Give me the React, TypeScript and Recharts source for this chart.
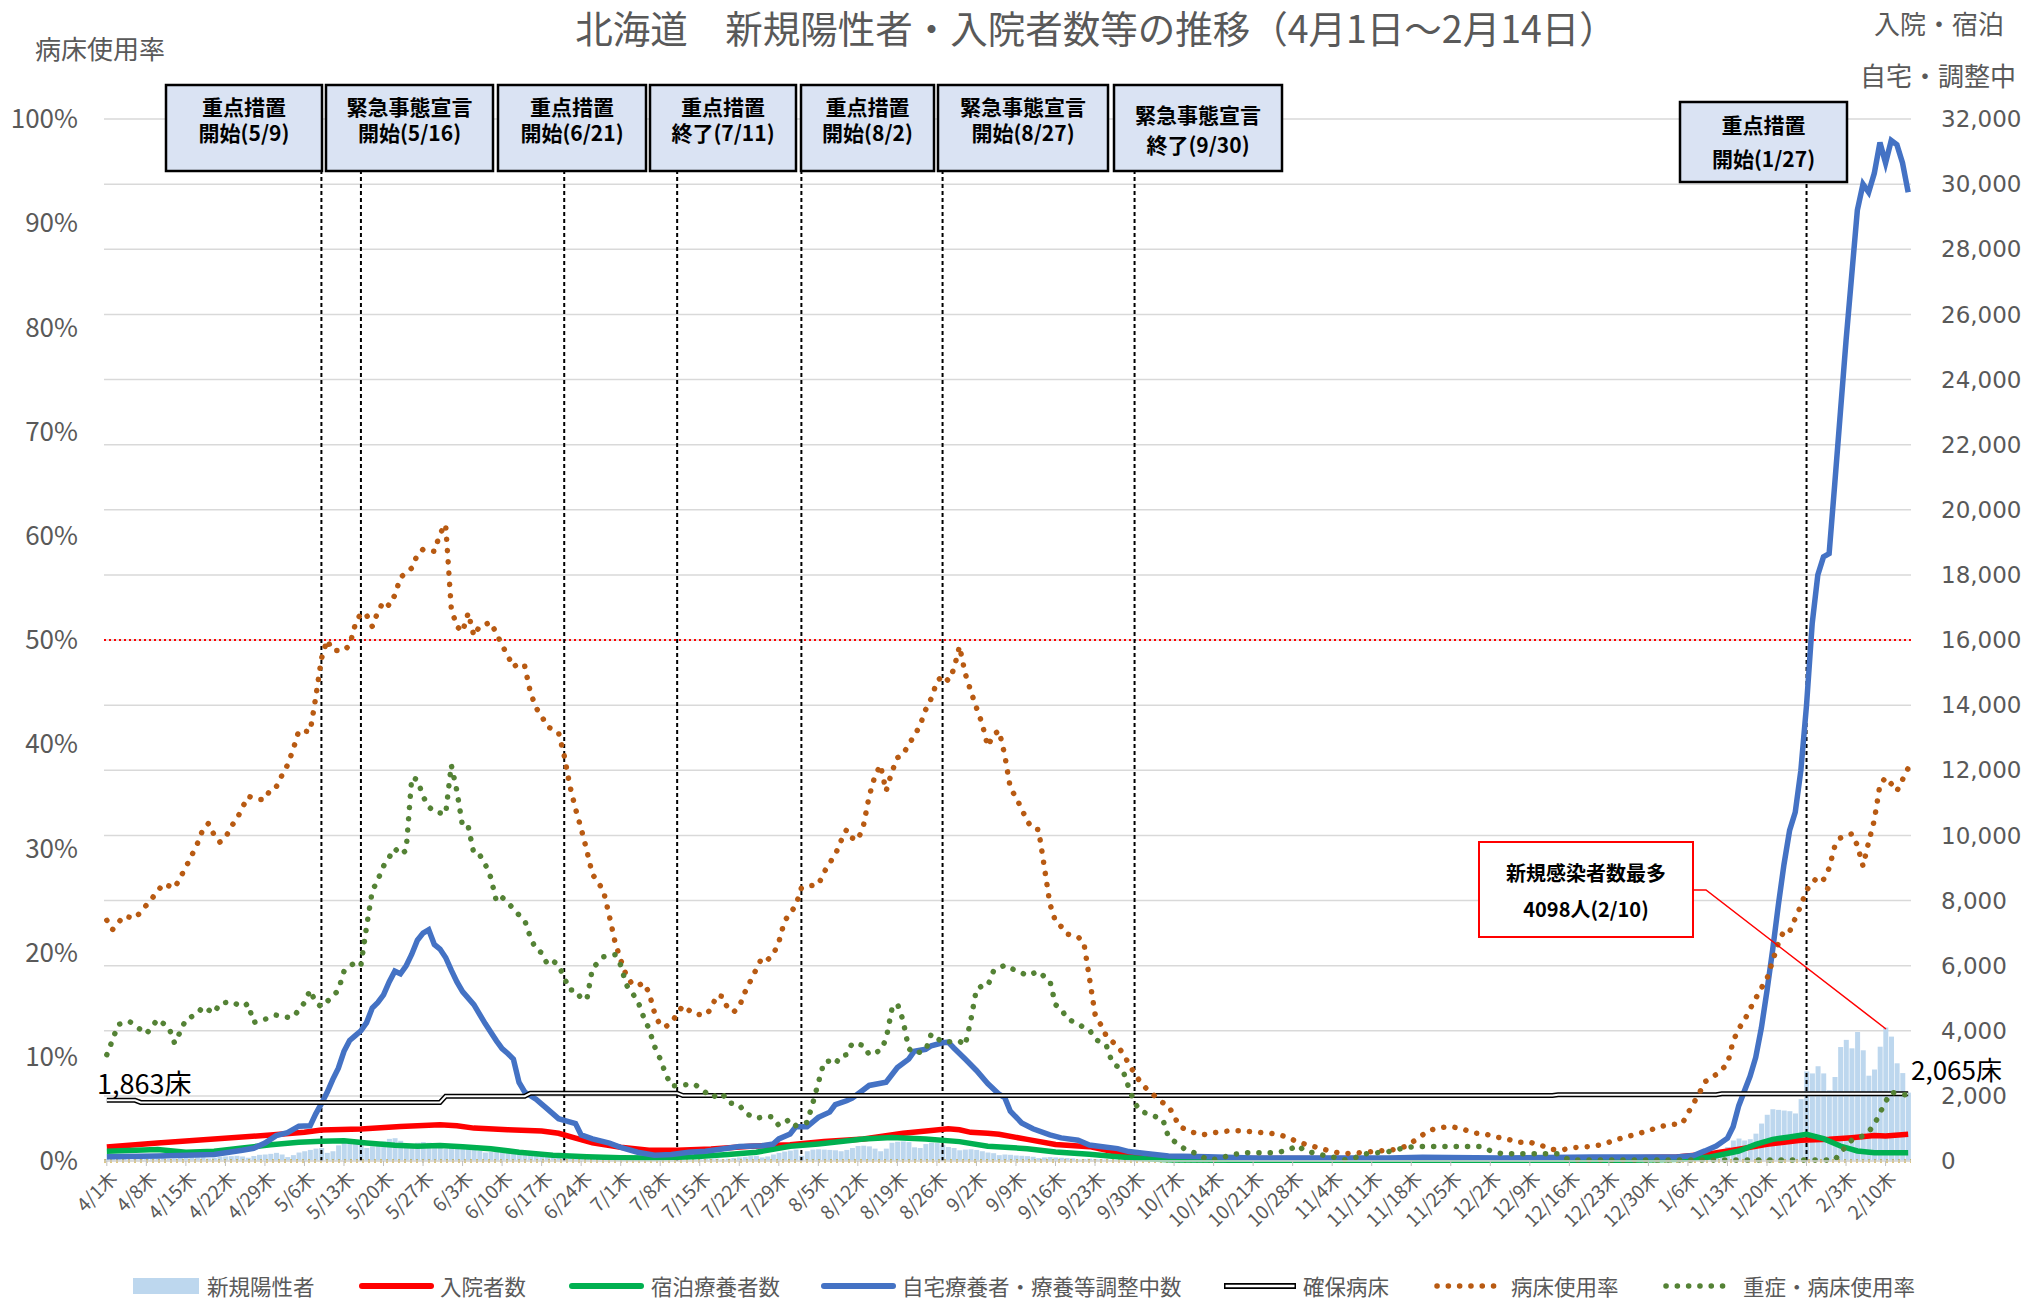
import React from 'react';
import { ComposedChart, Bar, Line, XAxis, YAxis, CartesianGrid, ReferenceLine } from 'recharts';

const W = 2029;
const H = 1299;
const FONT = "'Noto Sans CJK JP', 'Noto Sans', sans-serif";
const GRAY = '#595959';

// 4/1 = day 0 ... 2/14 = day 319
const tickLabels = [
  '4/1木', '4/8木', '4/15木', '4/22木', '4/29木', '5/6木', '5/13木', '5/20木', '5/27木', '6/3木',
  '6/10木', '6/17木', '6/24木', '7/1木', '7/8木', '7/15木', '7/22木', '7/29木', '8/5木', '8/12木',
  '8/19木', '8/26木', '9/2木', '9/9木', '9/16木', '9/23木', '9/30木', '10/7木', '10/14木', '10/21木',
  '10/28木', '11/4木', '11/11木', '11/18木', '11/25木', '12/2木', '12/9木', '12/16木', '12/23木', '12/30木',
  '1/6木', '1/13木', '1/20木', '1/27木', '2/3木', '2/10木',
];

// 新規陽性者 (daily)
const newCases = [
  60, 70, 75, 65, 40, 55, 80,
  85, 95, 100, 110, 60, 70, 100,
  110, 120, 140, 120, 80, 100, 130,
  140, 150, 160, 140, 100, 150, 190,
  200, 220, 250, 200, 120, 180, 260,
  300, 340, 380, 400, 250, 300, 480,
  560, 650, 600, 520, 400, 450, 560,
  600, 680, 700, 620, 480, 500, 560,
  580, 560, 520, 500, 380, 420, 450,
  400, 380, 360, 320, 260, 280, 300,
  300, 280, 260, 240, 180, 200, 220,
  200, 180, 170, 150, 100, 110, 130,
  120, 110, 100, 90, 60, 70, 80,
  80, 70, 60, 50, 30, 40, 50,
  50, 45, 40, 35, 25, 35, 45,
  55, 60, 70, 75, 50, 70, 90,
  110, 130, 150, 160, 110, 140, 200,
  250, 290, 320, 350, 160, 300, 350,
  360, 350, 340, 330, 300, 340, 400,
  460, 470, 450, 380, 300, 380, 560,
  590, 600, 580, 420, 400, 520, 560,
  550, 500, 430, 400, 330, 350, 360,
  340, 300, 260, 240, 180, 200, 190,
  170, 160, 150, 130, 90, 110, 120,
  110, 100, 90, 80, 50, 60, 70,
  60, 55, 50, 40, 25, 35, 40,
  35, 30, 28, 25, 15, 20, 25,
  20, 18, 17, 15, 10, 12, 15,
  15, 12, 10, 10, 6, 8, 10,
  9, 8, 7, 6, 4, 5, 7,
  8, 7, 6, 5, 3, 5, 6,
  6, 5, 5, 4, 3, 4, 6,
  8, 10, 12, 14, 10, 14, 18,
  22, 25, 28, 30, 20, 26, 30,
  32, 30, 28, 25, 18, 22, 24,
  22, 20, 18, 16, 10, 14, 15,
  14, 12, 11, 10, 6, 8, 9,
  8, 7, 6, 6, 4, 5, 6,
  6, 7, 8, 10, 8, 8, 10,
  12, 15, 20, 25, 30, 40, 60,
  50, 70, 110, 150, 200, 240, 350,
  430, 630, 690, 630, 670, 840, 1150,
  1420, 1590, 1570, 1550, 1530, 1460, 1900,
  2750, 2690, 2910, 2690, 2170, 2580, 3500,
  3720, 3460, 3960, 3400, 2620, 2810, 3510,
  4098, 3820, 3000, 2700, 2100,
];

// [day, value] read at the line's vertices
const hospitalized: [number, number][] = [
  [0, 430], [9, 550], [19, 675], [29, 800], [35, 880], [38, 950], [45, 980], [52, 1060], [59, 1110],
  [62, 1080], [65, 1010], [71, 960], [77, 920], [80, 850], [83, 700], [86, 560], [91, 425], [96, 330],
  [101, 330], [107, 370], [114, 450], [121, 500], [127, 600], [134, 675], [141, 850], [146, 940],
  [149, 990], [151, 960], [153, 880], [156, 850], [158, 820], [163, 665], [168, 510], [174, 440],
  [179, 260], [184, 150], [189, 100], [200, 80], [230, 70], [260, 70], [278, 120], [284, 225],
  [289, 360], [294, 510], [300, 640], [305, 665], [309, 716], [313, 780], [315, 770], [319, 820],
];

const hotel: [number, number][] = [
  [0, 300], [9, 350], [14, 270], [19, 300], [24, 400], [29, 500], [34, 575], [38, 605], [42, 625],
  [46, 555], [51, 485], [55, 455], [59, 475], [63, 435], [68, 375], [73, 270], [79, 180], [85, 130],
  [91, 100], [97, 90], [104, 130], [110, 200], [115, 270], [121, 450], [126, 525], [134, 675],
  [139, 725], [145, 675], [151, 595], [156, 455], [163, 378], [168, 276], [174, 205], [179, 133],
  [184, 72], [189, 31], [200, 20], [270, 20], [279, 50], [284, 123], [289, 307], [292, 511],
  [295, 665], [298, 737], [301, 818], [304, 685], [307, 460], [310, 307], [313, 256], [316, 250],
  [319, 256],
];

const home: [number, number][] = [
  [0, 130], [9, 150], [19, 200], [24, 330], [26, 390], [28, 550], [30, 780], [32, 870], [34, 1070],
  [36, 1080], [37, 1450], [38, 1760], [39, 2100], [40, 2500], [41, 2850], [42, 3370], [43, 3700],
  [44, 3850], [45, 4000], [46, 4250], [47, 4700], [48, 4870], [49, 5100], [50, 5500], [51, 5830],
  [52, 5750], [53, 5990], [54, 6350], [55, 6780], [56, 7000], [57, 7100], [58, 6650], [59, 6510],
  [60, 6250], [61, 5860], [62, 5500], [63, 5200], [65, 4800], [67, 4220], [69, 3690], [70, 3450],
  [71, 3300], [72, 3130], [73, 2410], [74, 2120], [76, 1900], [78, 1600], [80, 1300], [81, 1250],
  [83, 1150], [84, 800], [86, 680], [89, 550], [91, 420], [94, 270], [97, 180], [100, 200],
  [103, 270], [106, 300], [109, 370], [112, 445], [116, 470], [118, 520], [119, 680], [121, 830],
  [122, 1050], [124, 1050], [126, 1340], [128, 1500], [129, 1730], [131, 1850], [132, 1930],
  [134, 2190], [135, 2320], [138, 2420], [140, 2870], [142, 3130], [143, 3370], [145, 3430],
  [146, 3540], [148, 3630], [149, 3650], [150, 3470], [152, 3130], [154, 2780], [156, 2380],
  [158, 2050], [159, 1950], [160, 1530], [162, 1170], [164, 990], [167, 800], [169, 710], [172, 640],
  [174, 490], [176, 445], [179, 380], [181, 290], [184, 230], [188, 155], [195, 130], [203, 95],
  [227, 95], [233, 115], [247, 95], [263, 120], [278, 120], [281, 170], [283, 310], [285, 460],
  [287, 700], [288, 1050], [289, 1700], [291, 2600], [292, 3180], [293, 4080], [294, 5230],
  [295, 6480], [296, 7850], [297, 9100], [298, 10150], [299, 10710], [300, 12000], [301, 14000],
  [302, 16500], [303, 18000], [304, 18550], [305, 18650], [306, 20800], [307, 23000], [308, 25200],
  [309, 27200], [310, 29200], [311, 30000], [312, 29750], [313, 30330], [314, 31280], [315, 30650],
  [316, 31340], [317, 31210], [318, 30650], [319, 29750],
];

const securedBeds: [number, number][] = [
  [0, 1863], [5, 1863], [6, 1800], [59, 1800], [60, 1990], [74, 1990], [75, 2080], [101, 2080],
  [102, 2010], [256, 2010], [257, 2035], [285, 2035], [286, 2065], [319, 2065],
];

// percent
const bedRate: [number, number][] = [
  [0, 23.1], [1, 22.2], [3, 23.5], [5, 23.3], [6, 23.9], [8, 25.2], [10, 26.6], [12, 26.2], [14, 28.2],
  [16, 30.4], [17, 31.8], [18, 32.4], [19, 31.3], [20, 30.6], [21, 31.0], [22, 32.1], [23, 32.8],
  [25, 35.0], [27, 34.7], [28, 34.7], [29, 35.7], [30, 35.9], [31, 37.0], [32, 38.0], [33, 39.5],
  [34, 41.3], [36, 41.2], [37, 44.5], [38, 48.2], [39, 50.0], [40, 49.0], [42, 49.0], [43, 49.5],
  [44, 51.5], [45, 52.6], [46, 52.4], [47, 51.3], [48, 52.7], [49, 53.7], [50, 53.3], [51, 54.3],
  [52, 56.0], [54, 56.9], [55, 58.2], [56, 58.7], [58, 58.5], [59, 60.2], [60, 61.1], [61, 53.0],
  [62, 51.3], [63, 50.8], [64, 52.6], [65, 50.4], [66, 51.3], [68, 51.7], [69, 50.6], [70, 49.5],
  [71, 48.5], [72, 47.4], [73, 47.8], [74, 47.5], [75, 45.0], [76, 43.5], [77, 42.7], [78, 41.7],
  [80, 41.1], [81, 38.9], [82, 36.0], [83, 33.8], [84, 31.9], [85, 29.8], [86, 27.5], [87, 26.8],
  [88, 25.8], [89, 23.5], [90, 21.0], [91, 19.3], [92, 17.8], [93, 17.0], [94, 16.8], [95, 17.1],
  [96, 16.2], [97, 14.2], [98, 13.0], [99, 12.9], [100, 13.3], [101, 14.1], [102, 14.9], [103, 14.5],
  [104, 14.1], [106, 14.0], [107, 14.6], [108, 15.9], [109, 15.8], [110, 14.6], [111, 14.3],
  [112, 14.8], [113, 16.2], [114, 17.3], [115, 18.4], [116, 19.5], [117, 19.3], [118, 19.8],
  [119, 21.0], [120, 23.0], [121, 23.8], [122, 24.5], [123, 26.2], [124, 26.4], [126, 26.5],
  [127, 27.7], [128, 28.6], [129, 29.4], [130, 30.7], [131, 31.8], [132, 31.0], [133, 30.8],
  [134, 32.2], [135, 35.0], [136, 36.9], [137, 38.0], [138, 35.5], [139, 37.3], [140, 38.7],
  [141, 39.0], [142, 40.0], [143, 40.8], [144, 41.8], [145, 43.3], [146, 44.4], [147, 46.0],
  [148, 46.6], [149, 46.1], [150, 47.2], [151, 49.4], [152, 46.8], [153, 45.1], [154, 43.5],
  [155, 42.0], [156, 39.8], [157, 40.9], [158, 41.3], [159, 39.0], [160, 35.8], [161, 34.9],
  [162, 33.8], [163, 32.6], [164, 31.9], [165, 31.8], [166, 28.3], [167, 24.7], [168, 23.0],
  [169, 22.5], [170, 21.8], [172, 21.5], [173, 21.0], [174, 17.6], [175, 14.1], [176, 13.1],
  [177, 12.0], [179, 11.0], [180, 10.3], [181, 9.3], [182, 8.4], [183, 7.6], [184, 7.0], [185, 6.5],
  [187, 5.6], [188, 5.3], [190, 3.3], [192, 2.8], [194, 2.5], [197, 2.8], [199, 2.9], [201, 2.9],
  [203, 2.8], [205, 2.7], [207, 2.6], [209, 2.3], [211, 1.8], [213, 1.5], [215, 1.2], [217, 0.9],
  [219, 0.7], [222, 0.8], [224, 0.9], [226, 1.0], [228, 1.1], [230, 1.4], [232, 2.1], [234, 2.9],
  [236, 3.2], [238, 3.3], [240, 3.1], [242, 2.7], [244, 2.6], [246, 2.3], [248, 2.1], [250, 1.8],
  [252, 1.8], [254, 1.5], [256, 1.1], [258, 1.1], [260, 1.3], [263, 1.4], [265, 1.6], [267, 2.0],
  [269, 2.3], [271, 2.6], [273, 2.9], [275, 3.3], [277, 3.5], [279, 3.6], [280, 4.6], [282, 6.5],
  [283, 7.6], [285, 8.3], [287, 9.3], [288, 11.5], [289, 12.7], [290, 13.5], [291, 14.6],
  [292, 15.6], [293, 16.6], [294, 17.5], [295, 19.2], [296, 20.9], [297, 22.1], [298, 22.0],
  [299, 23.3], [300, 24.5], [301, 26.0], [303, 27.3], [304, 27.0], [305, 28.1], [306, 30.2],
  [307, 31.0], [309, 31.4], [310, 30.3], [311, 28.3], [312, 30.6], [313, 32.7], [314, 36.1],
  [315, 36.8], [316, 36.2], [317, 35.5], [318, 36.6], [319, 37.7],
];

const severeRate: [number, number][] = [
  [0, 10.2], [1, 11.6], [2, 13.1], [4, 13.4], [5, 13.0], [7, 12.2], [9, 13.6], [11, 12.8], [12, 11.3],
  [13, 12.4], [14, 13.6], [16, 14.1], [17, 14.8], [19, 14.2], [20, 15.1], [22, 15.3], [24, 14.8],
  [25, 15.1], [26, 13.3], [28, 13.6], [30, 14.0], [32, 13.8], [33, 13.8], [35, 15.2], [36, 16.4],
  [37, 15.2], [38, 14.8], [40, 15.8], [41, 16.4], [42, 18.2], [44, 19.1], [45, 18.8], [46, 22.5],
  [47, 25.9], [48, 27.0], [49, 28.3], [51, 30.0], [52, 29.4], [53, 29.8], [54, 36.8], [55, 36.6],
  [56, 35.0], [57, 34.0], [58, 33.5], [60, 33.3], [61, 38.0], [62, 35.5], [63, 32.1], [64, 32.1],
  [65, 29.5], [66, 29.4], [67, 28.5], [68, 27.2], [69, 24.9], [70, 25.3], [71, 24.8], [73, 23.6],
  [74, 23.1], [75, 21.5], [76, 20.3], [77, 20.0], [78, 18.9], [79, 19.2], [80, 18.8], [81, 17.6],
  [82, 16.4], [83, 16.4], [84, 15.6], [85, 15.5], [86, 18.5], [88, 19.6], [90, 19.8], [91, 18.8],
  [92, 16.9], [94, 15.4], [95, 13.9], [96, 12.7], [97, 11.0], [98, 9.8], [99, 8.3], [100, 7.2],
  [102, 7.3], [104, 7.4], [106, 6.6], [107, 6.1], [109, 6.5], [110, 5.6], [112, 5.4], [113, 4.6],
  [115, 4.1], [117, 4.3], [118, 4.2], [119, 3.4], [121, 4.0], [122, 3.4], [124, 3.7], [125, 5.5],
  [126, 7.5], [127, 9.5], [128, 9.6], [129, 9.3], [130, 10.1], [131, 10.2], [132, 11.3], [134, 11.1],
  [135, 10.2], [137, 10.6], [138, 11.7], [139, 14.5], [140, 15.1], [141, 13.5], [142, 10.8],
  [143, 10.3], [145, 10.6], [146, 12.2], [147, 11.8], [148, 11.4], [151, 11.5], [152, 11.1],
  [153, 13.5], [154, 16.5], [155, 16.8], [156, 16.8], [157, 18.2], [159, 18.8], [160, 18.5],
  [161, 18.3], [163, 17.8], [165, 18.2], [166, 17.7], [167, 17.3], [168, 15.0], [169, 14.6],
  [170, 13.7], [172, 13.1], [174, 12.6], [175, 11.7], [177, 11.1], [178, 9.5], [180, 8.6], [181, 7.0],
  [182, 5.6], [183, 4.8], [185, 4.4], [187, 4.0], [188, 2.3], [190, 1.5], [191, 1.1], [193, 0.7],
  [195, 0.1], [197, 0.2], [199, 0.6], [202, 0.8], [207, 0.8], [209, 1.0], [211, 1.5], [212, 1.0],
  [215, 0.6], [217, 0.4], [219, 0.1], [221, 0.3], [223, 0.7], [227, 0.9], [230, 1.3], [232, 1.4],
  [243, 1.4], [245, 1.0], [247, 0.7], [257, 0.7], [259, 0.1], [306, 0.1], [307, 0.8], [309, 2.0],
  [311, 2.4], [312, 2.8], [313, 3.5], [314, 4.6], [315, 5.7], [316, 6.6], [319, 6.3],
];

// 措置の開始・終了日 (day index)
const eventDays = [38, 45, 81, 101, 123, 148, 182, 301];
const eventTexts = [
  ['重点措置', '開始(5/9)'],
  ['緊急事態宣言', '開始(5/16)'],
  ['重点措置', '開始(6/21)'],
  ['重点措置', '終了(7/11)'],
  ['重点措置', '開始(8/2)'],
  ['緊急事態宣言', '開始(8/27)'],
  ['緊急事態宣言', '終了(9/30)'],
  ['重点措置', '開始(1/27)'],
];

const pctTicks = [0, 10, 20, 30, 40, 50, 60, 70, 80, 90, 100];
const countTicks = [0, 2000, 4000, 6000, 8000, 10000, 12000, 14000, 16000, 18000, 20000, 22000, 24000, 26000, 28000, 30000, 32000];

const toMap = (pairs: [number, number][]) => new Map(pairs);
const maps = {
  hosp: toMap(hospitalized),
  hotel: toMap(hotel),
  home: toMap(home),
  beds: toMap(securedBeds),
  bedRate: toMap(bedRate),
  severe: toMap(severeRate),
};

const rows = newCases.map((v, day) => ({
  day,
  newCases: v,
  hosp: maps.hosp.get(day) ?? null,
  hotel: maps.hotel.get(day) ?? null,
  home: maps.home.get(day) ?? null,
  beds: maps.beds.get(day) ?? null,
  bedRate: maps.bedRate.get(day) ?? null,
  severe: maps.severe.get(day) ?? null,
}));

// box layout in page pixels: [x, y, w, h, line1 y, line2 y]
const boxLayout = [
  [166, 85, 156, 86, 106, 132],
  [326, 85, 167, 86, 106, 132],
  [498, 85, 148, 86, 106, 132],
  [650, 85, 146, 86, 106, 132],
  [801, 85, 133, 86, 106, 132],
  [938, 85, 170, 86, 106, 132],
  [1114, 85, 168, 86, 114, 144],
  [1680, 102, 167, 80, 124, 158],
];

const DateTick = (props: any) => {
  const { x, y, payload } = props;
  const label = tickLabels[Math.round(payload.value / 7)];
  return (
    <g transform={`translate(${x + 7},${y + 7})`}>
      <text transform="rotate(-45)" textAnchor="end" dy="0.35em" fontSize={19} fill={GRAY} fontFamily={FONT}>
        {label}
      </text>
    </g>
  );
};

const dotted = { strokeWidth: 5.5, strokeDasharray: '0.1 11.2', strokeLinecap: 'round' as const };

const legendItems = [
  { kind: 'rect', x: 133, tx: 207, color: '#BDD7EE', label: '新規陽性者' },
  { kind: 'line', x: 362, tx: 440, color: '#FF0000', label: '入院者数' },
  { kind: 'line', x: 572, tx: 651, color: '#00B050', label: '宿泊療養者数' },
  { kind: 'line', x: 824, tx: 902, color: '#4472C4', label: '自宅療養者・療養等調整中数' },
  { kind: 'double', x: 1224, tx: 1303, color: '#000', label: '確保病床' },
  { kind: 'dots', x: 1434, tx: 1511, color: '#B85A12', label: '病床使用率' },
  { kind: 'dots', x: 1663, tx: 1743, color: '#548235', label: '重症・病床使用率' },
];

export default function App() {
  return (
    <div style={{ position: 'absolute', left: 0, top: 0, width: W, height: H, background: '#fff', fontFamily: FONT }}>
      <ComposedChart width={W} height={H} data={rows} margin={{ top: 119, right: 0, bottom: 0, left: 0 }} barCategoryGap="10%">
        <CartesianGrid vertical={false} stroke="#D9D9D9" strokeWidth={1.5} />
        <XAxis
          dataKey="day"
          type="category"
          interval={6}
          height={138}
          tick={<DateTick />}
          tickSize={5}
          tickLine={{ stroke: '#BFBFBF' }}
          axisLine={{ stroke: '#D9D9D9', strokeWidth: 1.5 }}
        />
        <YAxis
          yAxisId={0}
          orientation="right"
          width={118}
          domain={[0, 32000]}
          ticks={countTicks}
          tickFormatter={(v: number) => v.toLocaleString('en-US')}
          axisLine={false}
          tickLine={false}
          tickSize={0}
          tickMargin={30}
          tick={{ fill: GRAY, fontSize: 23, fontFamily: 'DejaVu Sans' }}
        />
        <YAxis
          yAxisId="left"
          orientation="left"
          width={104}
          domain={[0, 100]}
          ticks={pctTicks}
          tickFormatter={(v: number) => `${v}%`}
          axisLine={false}
          tickLine={false}
          tickSize={0}
          tickMargin={26}
          tick={{ fill: GRAY, fontSize: 26, fontFamily: FONT }}
        />
        <Bar dataKey="newCases" fill="#BDD7EE" isAnimationActive={false} />
        <ReferenceLine yAxisId="left" y={50} stroke="#FF0000" strokeWidth={2} strokeDasharray="2 3" />
        <ReferenceLine yAxisId="left" y={0} stroke="#BF9000" strokeWidth={3} strokeDasharray="2 4" />
        {eventDays.map((d, i) => (
          <ReferenceLine
            key={d}
            yAxisId="left"
            segment={[{ x: d, y: 0 }, { x: d, y: i === 7 ? 94 : 95 }]}
            stroke="#000"
            strokeWidth={2}
            strokeDasharray="4 3"
          />
        ))}
        <Line dataKey="hosp" stroke="#FF0000" strokeWidth={5.5} dot={false} activeDot={false} connectNulls isAnimationActive={false} />
        <Line dataKey="hotel" stroke="#00B050" strokeWidth={5.5} dot={false} activeDot={false} connectNulls isAnimationActive={false} />
        <Line dataKey="home" stroke="#4472C4" strokeWidth={5.5} dot={false} activeDot={false} connectNulls isAnimationActive={false} />
        <Line dataKey="beds" stroke="#000" strokeWidth={5} dot={false} activeDot={false} connectNulls isAnimationActive={false} />
        <Line dataKey="beds" stroke="#fff" strokeWidth={2} dot={false} activeDot={false} connectNulls isAnimationActive={false} />
        <Line yAxisId="left" dataKey="bedRate" stroke="#B85A12" {...dotted} dot={false} activeDot={false} connectNulls isAnimationActive={false} />
        <Line yAxisId="left" dataKey="severe" stroke="#548235" {...dotted} dot={false} activeDot={false} connectNulls isAnimationActive={false} />
      </ComposedChart>

      <svg width={W} height={H} style={{ position: 'absolute', left: 0, top: 0, pointerEvents: 'none' }} fontFamily={FONT}>
        <text x={1096} y={26} textAnchor="middle" dominantBaseline="central" fontSize={37.5} fill={GRAY}>
          北海道　新規陽性者・入院者数等の推移（4月1日～2月14日）
        </text>
        <text x={35} y={47} dominantBaseline="central" fontSize={26} fill={GRAY}>病床使用率</text>
        <text x={1939} y={22} textAnchor="middle" dominantBaseline="central" fontSize={26} fill={GRAY}>入院・宿泊</text>
        <text x={1938} y={74} textAnchor="middle" dominantBaseline="central" fontSize={26} fill={GRAY}>自宅・調整中</text>

        {boxLayout.map(([x, y, w, h, l1, l2], i) => (
          <g key={i}>
            <rect x={x} y={y} width={w} height={h} fill="#DAE3F3" stroke="#000" strokeWidth={2.5} />
            <text x={x + w / 2} y={l1} textAnchor="middle" dominantBaseline="central" fontSize={21} fontWeight={700} fill="#000">
              {eventTexts[i][0]}
            </text>
            <text x={x + w / 2} y={l2} textAnchor="middle" dominantBaseline="central" fontSize={21} fontWeight={700} fill="#000">
              {eventTexts[i][1]}
            </text>
          </g>
        ))}

        <text x={97} y={1082} dominantBaseline="central" fontSize={27} fill="#000">1,863床</text>
        <text x={1911} y={1068} dominantBaseline="central" fontSize={26} fill="#000">2,065床</text>

        <polyline points="1693,890 1706,890 1886,1029" fill="none" stroke="#FF0000" strokeWidth={1.5} />
        <rect x={1479} y={842} width={214} height={95} fill="#fff" stroke="#FF0000" strokeWidth={2} />
        <text x={1586} y={872} textAnchor="middle" dominantBaseline="central" fontSize={20} fontWeight={700} fill="#000">新規感染者数最多</text>
        <text x={1586} y={908} textAnchor="middle" dominantBaseline="central" fontSize={20} fontWeight={700} fill="#000">4098人(2/10)</text>

        {legendItems.map((it) => (
          <g key={it.label}>
            {it.kind === 'rect' && <rect x={it.x} y={1278} width={66} height={16} fill={it.color} />}
            {it.kind === 'line' && <line x1={it.x} x2={it.x + 69} y1={1286} y2={1286} stroke={it.color} strokeWidth={6} strokeLinecap="round" />}
            {it.kind === 'double' && (
              <>
                <line x1={it.x} x2={it.x + 72} y1={1286} y2={1286} stroke="#000" strokeWidth={6} />
                <line x1={it.x + 1.5} x2={it.x + 70.5} y1={1286} y2={1286} stroke="#fff" strokeWidth={2.5} />
              </>
            )}
            {it.kind === 'dots' && (
              <line x1={it.x + 3} x2={it.x + 70} y1={1286} y2={1286} stroke={it.color} {...dotted} />
            )}
            <text x={it.tx} y={1285} dominantBaseline="central" fontSize={21.5} fill={GRAY}>{it.label}</text>
          </g>
        ))}
      </svg>
    </div>
  );
}
